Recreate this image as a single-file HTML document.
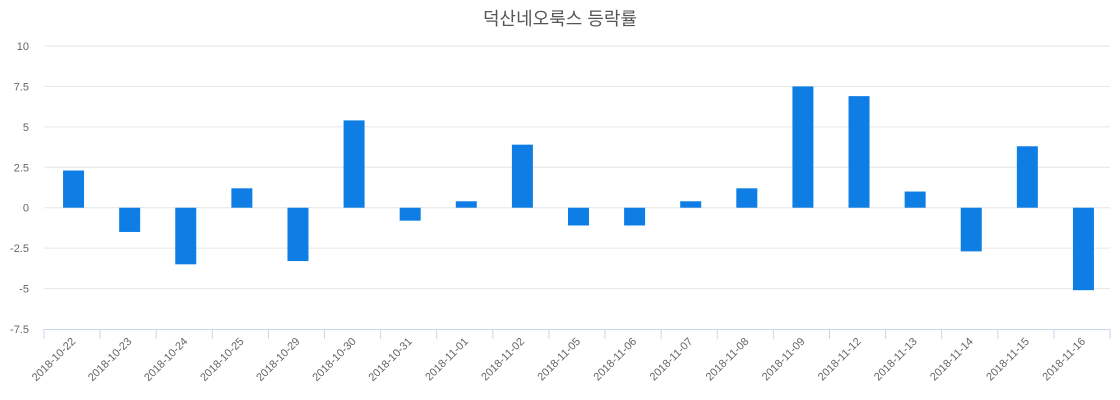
<!DOCTYPE html>
<html><head><meta charset="utf-8"><style>
body{margin:0;background:#fff}
svg{display:block;font-family:"Liberation Sans","Noto Sans CJK KR",sans-serif}
</style></head><body>
<svg id="c" width="1120" height="400">
<text x="560" y="25" text-anchor="middle" font-size="18" fill="#555">덕산네오룩스 등락률</text>
</svg>
<script>
const categories=["2018-10-22","2018-10-23","2018-10-24","2018-10-25","2018-10-29","2018-10-30","2018-10-31","2018-11-01","2018-11-02","2018-11-05","2018-11-06","2018-11-07","2018-11-08","2018-11-09","2018-11-12","2018-11-13","2018-11-14","2018-11-15","2018-11-16"];
const values=[2.3,-1.5,-3.5,1.2,-3.3,5.4,-0.8,0.4,3.9,-1.1,-1.1,0.4,1.2,7.5,6.9,1.0,-2.7,3.8,-5.1];
const yTicks=[10,7.5,5,2.5,0,-2.5,-5,-7.5];
const yTickLabels=["10","7.5","5","2.5","0","-2.5","-5","-7.5"];
const NS="http://www.w3.org/2000/svg",svg=document.getElementById('c');
const L=44,R=1110,T=46,B=329,ymax=10,ymin=-7.5;
const y=v=>T+(ymax-v)/(ymax-ymin)*(B-T);
const bw=(R-L)/categories.length;
const x=i=>L+bw*(i+0.5);
function mk(t,a){const e=document.createElementNS(NS,t);for(const k in a)e.setAttribute(k,a[k]);svg.appendChild(e);return e;}
yTicks.forEach((v,i)=>{
 if(v!==ymin){const g=mk('line',{x1:L,x2:R,y1:y(v),y2:y(v),stroke:'#e6e6e6','stroke-width':1});
 
 }
 const t=mk('text',{x:29,y:y(v)+4,'text-anchor':'end','font-size':11,fill:'#666'});t.textContent=yTickLabels[i];
 
 
});
const ax=mk('line',{x1:L,x2:R,y1:B+0.5,y2:B+0.5,stroke:'#ccd6eb'});


for(let i=0;i<=categories.length;i++){const tk=mk('line',{x1:L+bw*i,x2:L+bw*i,y1:B,y2:B+10,stroke:'#ccd6eb'});
 
 }
categories.forEach((c,i)=>{
 const v=values[i];
 const r=mk('rect',{x:x(i)-9,y:Math.min(y(v),y(0)),width:21,height:Math.abs(y(v)-y(0)),fill:'#0f7ee4'});
 
 
 const t=mk('text',{x:x(i)+4,y:B+13,'text-anchor':'end','font-size':11,fill:'#666',transform:`rotate(-45 ${x(i)+4} ${B+13})`});
 t.textContent=c;
 
 
});
</script>
</body></html>
